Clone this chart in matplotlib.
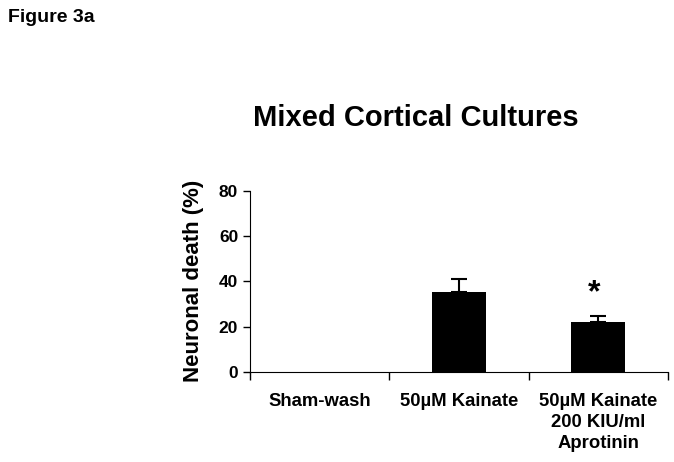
import matplotlib.pyplot as plt

plt.rcParams['font.family'] = ['Liberation Sans', 'DejaVu Sans']
plt.rcParams['font.weight'] = 'bold'

# data
groups = ['Sham-wash', '50µM Kainate', '50µM Kainate\n200 KIU/ml\nAprotinin']
death = [0, 35.4, 22.2]
sem = [0, 5.6, 2.6]
stars = ['', '', '*']

fig = plt.figure(figsize=(6.74, 4.62), dpi=100)
ax = fig.add_axes([0.371, 0.195, 0.62, 0.392])

x = range(len(groups))
ax.bar(x, death, width=0.39, color='black', zorder=2)
ax.errorbar([1, 2], death[1:], yerr=[[0, 0], sem[1:]], fmt='none',
            ecolor='black', elinewidth=1.5, capsize=6, capthick=1.5, zorder=1)
for i, s in enumerate(stars):
    if s:
        ax.text(i - 0.03, death[i] + sem[i] + 3.5, s, ha='center', va='bottom',
                fontsize=23, fontweight='bold')

ax.set_xlim(-0.5, 2.5)
ax.set_ylim(0, 80)
ax.set_yticks([0, 20, 40, 60, 80])
ax.set_xticks([-0.5, 0.5, 1.5, 2.5])
ax.set_xticklabels([])
ax.tick_params(axis='x', length=6, width=1)
ax.tick_params(axis='y', length=5, width=1, labelsize=12.5)
for i, g in enumerate(groups):
    ax.text(i, -9.5, g, ha='center', va='top', fontsize=13.3, fontweight='bold',
            linespacing=1.3)

ax.spines['top'].set_visible(False)
ax.spines['right'].set_visible(False)
ax.set_ylabel('Neuronal death (%)', fontsize=16, fontweight='bold', labelpad=11)

fig.text(0.617, 0.727, 'Mixed Cortical Cultures', ha='center', fontsize=21,
         fontweight='bold')
fig.text(0.012, 0.952, 'Figure 3a', ha='left', fontsize=14, fontweight='bold')

fig.savefig('out.png', dpi=100)
